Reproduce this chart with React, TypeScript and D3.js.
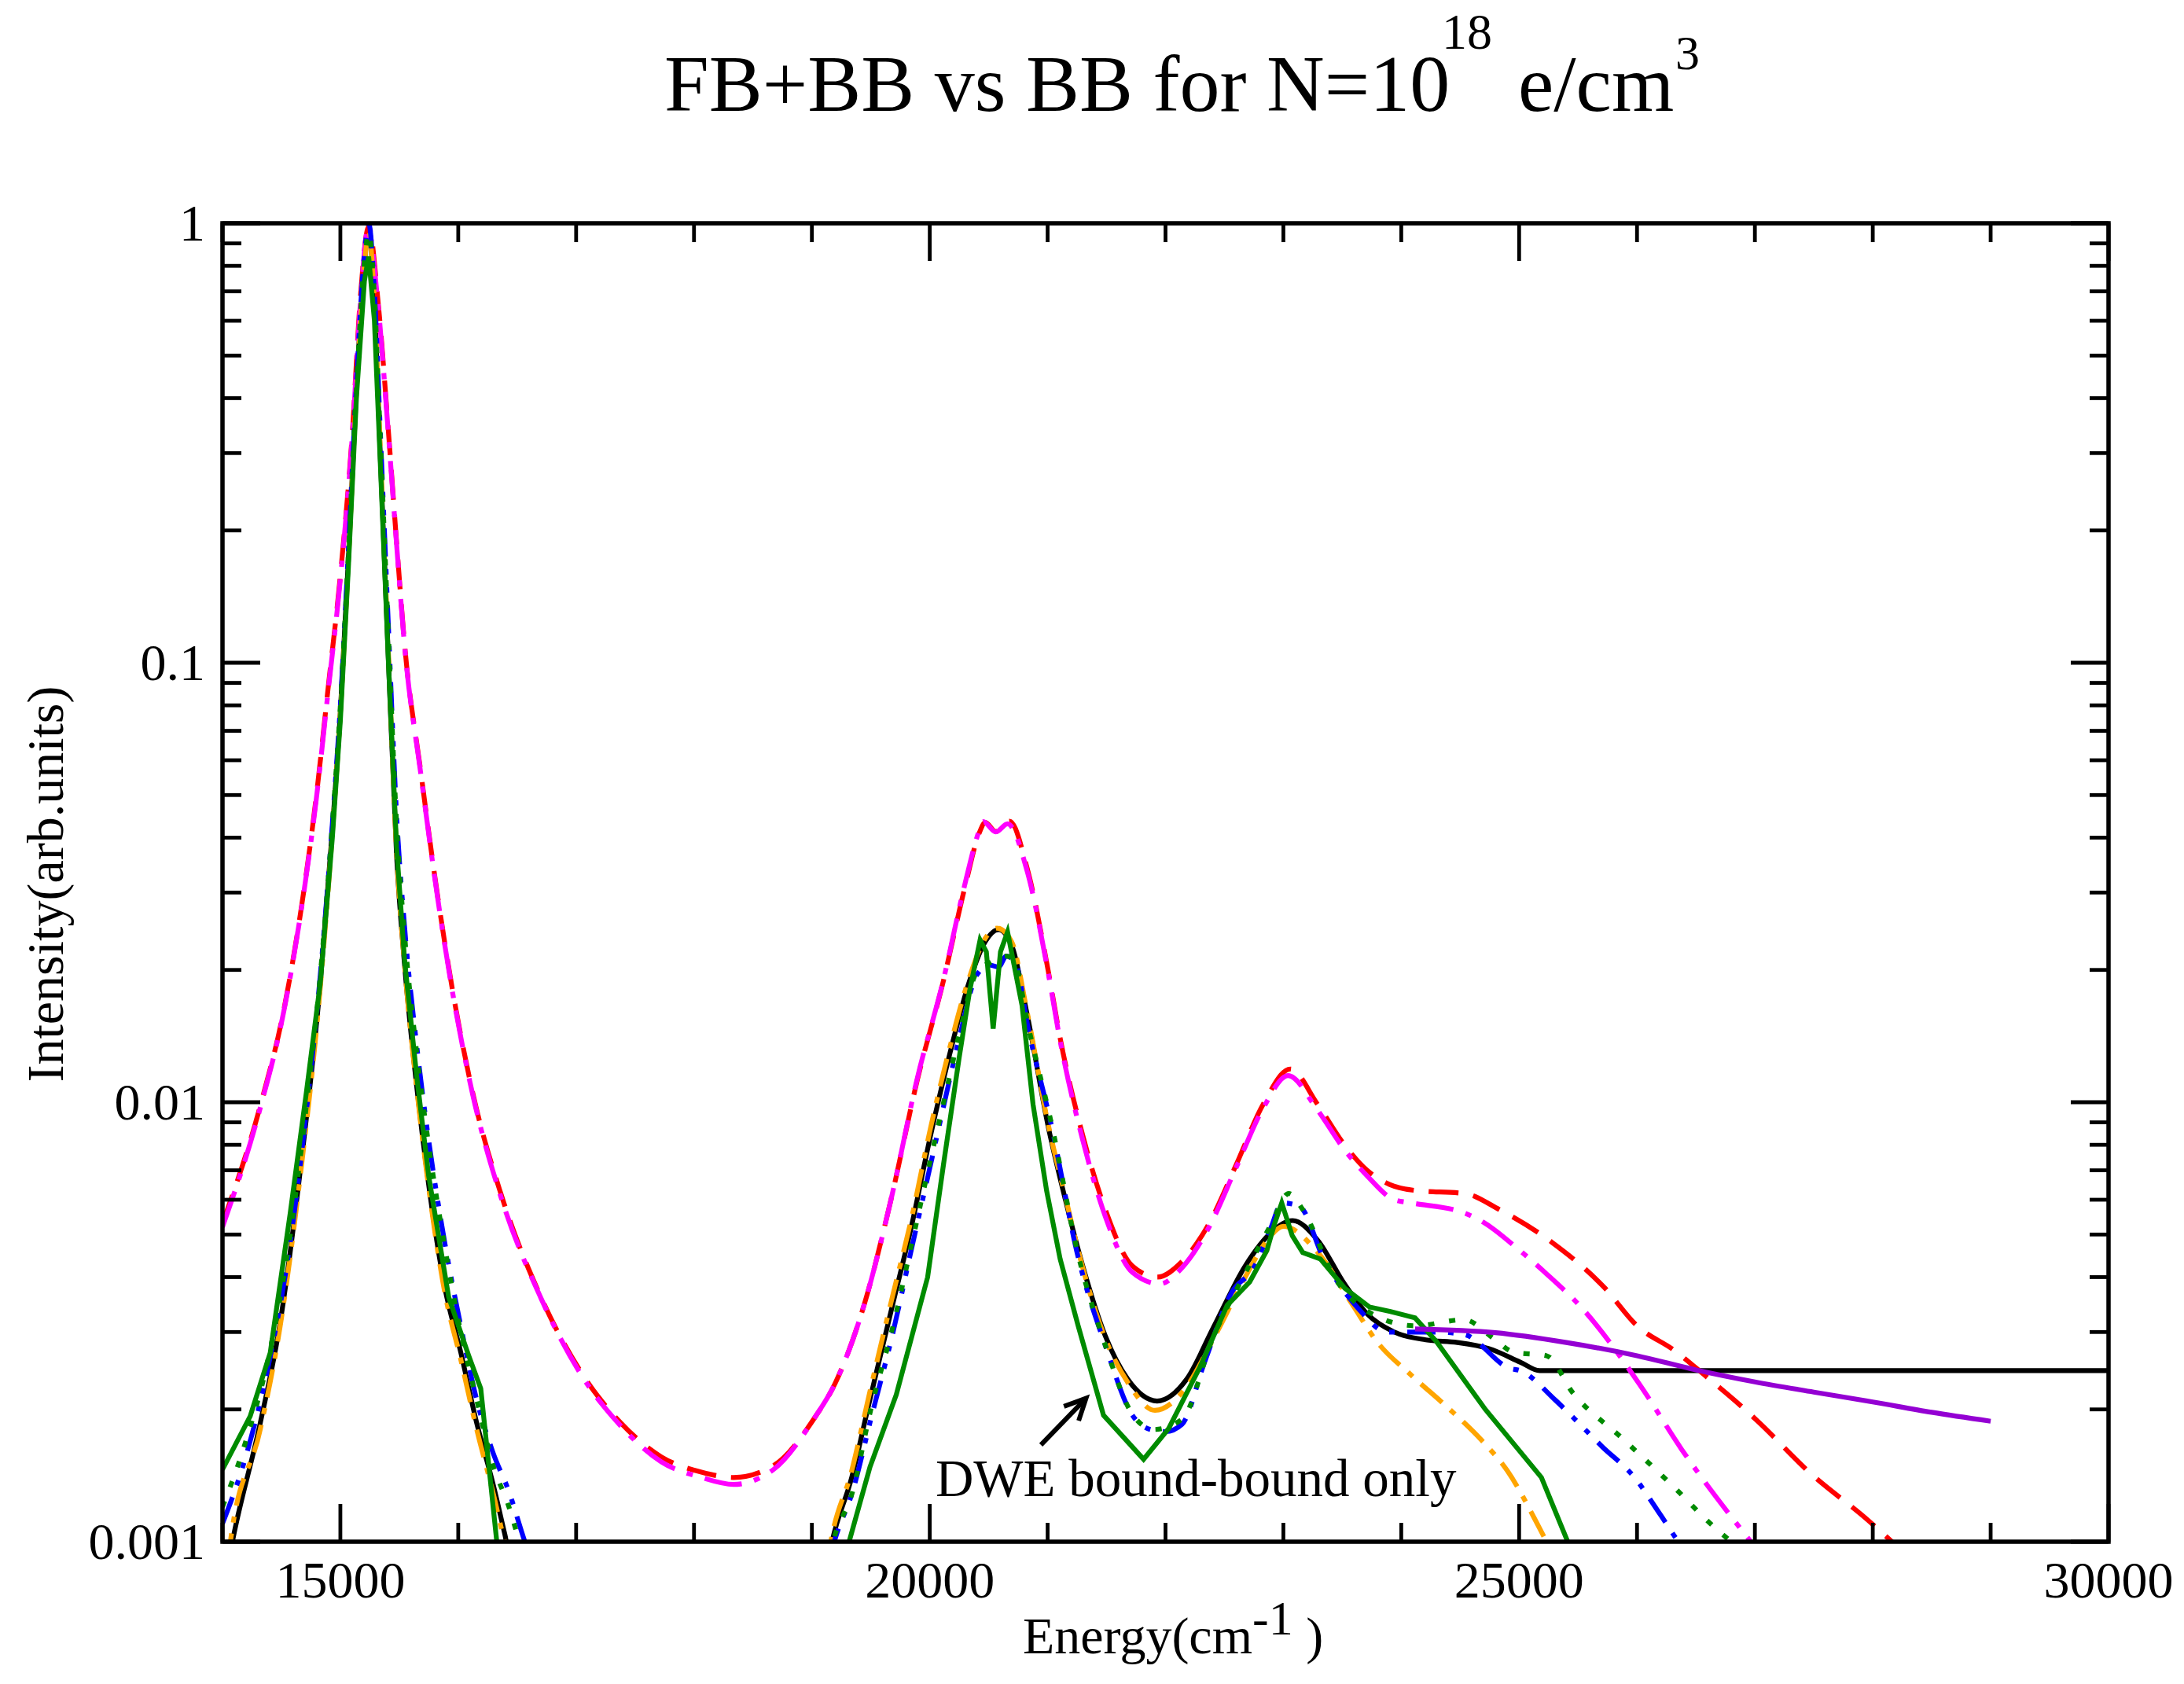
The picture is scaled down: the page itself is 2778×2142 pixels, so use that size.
import React, { useEffect, useRef } from 'react';
import * as d3 from 'd3';

type Pt = [number, number];

const W = 2778;
const H = 2142;

// axis ticks
const xMajorTicks = [15000, 20000, 25000, 30000];
const xMinorTicks = d3.range(14000, 30001, 1000).filter((v) => v % 5000 !== 0);
const yMajorTicks = [1, 0.1, 0.01, 0.001];
const yTickLabels = ['1', '0.1', '0.01', '0.001'];
const yMinorTicks = [0.001, 0.01, 0.1].flatMap((d) => d3.range(2, 10).map((k) => k * d));

// red dashed
const redDashed: Pt[] = [
  [14000, 0.0053], [14320, 0.0098], [14524, 0.0164], [14660, 0.0267], [14796, 0.0497], [14898, 0.0885],
  [15000, 0.158], [15102, 0.335], [15170, 0.68], [15240, 0.98], [15323, 0.65], [15408, 0.335],
  [15477, 0.188], [15545, 0.11], [15681, 0.0568], [15817, 0.0305], [15953, 0.0179], [16123, 0.0105],
  [16361, 0.0062], [16702, 0.0036], [17042, 0.00243], [17382, 0.00186], [17722, 0.00156], [18063, 0.00144],
  [18335, 0.0014], [18675, 0.00149], [19015, 0.0019], [19200, 0.0023], [19449, 0.0035], [19671, 0.006],
  [19893, 0.0112], [20116, 0.0189], [20300, 0.031], [20420, 0.041], [20471, 0.0433], [20560, 0.0413],
  [20677, 0.0436], [20827, 0.034], [21005, 0.0199], [21106, 0.014], [21298, 0.0084], [21489, 0.0057],
  [21719, 0.00424], [21929, 0.004], [22140, 0.00434], [22370, 0.0053], [22599, 0.0072], [22829, 0.0099],
  [23059, 0.0119], [23289, 0.0099], [23518, 0.008], [23710, 0.007], [23901, 0.0065], [24117, 0.0063],
  [24534, 0.0062], [24832, 0.0057], [25278, 0.0048], [25718, 0.0038], [26000, 0.0031], [26320, 0.00272],
  [26576, 0.00239], [26915, 0.002], [27024, 0.00188], [27473, 0.00143], [27958, 0.00112], [28163, 0.001],
  [28400, 0.00088],
];

// magenta dash-dot
const magentaDashDot: Pt[] = [
  [14000, 0.0052], [14320, 0.0097], [14524, 0.0163], [14660, 0.0265], [14796, 0.049], [14898, 0.087],
  [15000, 0.155], [15102, 0.33], [15170, 0.66], [15235, 0.97], [15318, 0.66], [15408, 0.33],
  [15477, 0.186], [15545, 0.109], [15681, 0.0562], [15817, 0.0302], [15953, 0.0177], [16123, 0.0104],
  [16361, 0.0061], [16702, 0.00358], [17042, 0.0024], [17382, 0.00183], [17722, 0.00152], [18063, 0.0014],
  [18335, 0.00135], [18675, 0.00146], [19015, 0.0019], [19200, 0.0023], [19449, 0.0035], [19671, 0.006],
  [19893, 0.0113], [20116, 0.019], [20300, 0.0315], [20420, 0.0415], [20454, 0.0435], [20560, 0.0412],
  [20660, 0.043], [20827, 0.0335], [21005, 0.0197], [21106, 0.0138], [21298, 0.0082], [21489, 0.0055],
  [21719, 0.0041], [21950, 0.00386], [22140, 0.0042], [22370, 0.0052], [22599, 0.0071], [22829, 0.0097],
  [23040, 0.0115], [23289, 0.0096], [23518, 0.0078], [23710, 0.0068], [23940, 0.006], [24087, 0.0059],
  [24534, 0.0056], [24712, 0.0053], [24980, 0.00466], [25219, 0.0041], [25546, 0.00337], [26022, 0.00228],
  [26380, 0.00162], [26915, 0.00104], [27100, 0.0009],
];

// black solid
const blackSolid: Pt[] = [
  [14050, 0.0009], [14100, 0.00105], [14320, 0.00186], [14490, 0.00316], [14660, 0.007], [14830, 0.0187],
  [14932, 0.0417], [15000, 0.0774], [15068, 0.172], [15136, 0.418], [15204, 0.81], [15240, 0.97],
  [15289, 0.65], [15340, 0.29], [15408, 0.101], [15477, 0.0364], [15545, 0.0205], [15647, 0.0109],
  [15749, 0.0065], [15885, 0.0038], [16021, 0.0027], [16157, 0.00186], [16293, 0.00136], [16395, 0.00104],
  [16450, 0.0009], [19100, 0.0008], [19171, 0.001], [19338, 0.0014], [19493, 0.00211], [19671, 0.00334],
  [19849, 0.00528], [20005, 0.00836], [20160, 0.01257], [20338, 0.0189], [20471, 0.0232], [20583, 0.0247],
  [20694, 0.0228], [20827, 0.0158], [21005, 0.0088], [21144, 0.0061], [21298, 0.00424], [21489, 0.00294],
  [21681, 0.00234], [21929, 0.00209], [22178, 0.00234], [22408, 0.00308], [22676, 0.00424], [22906, 0.00508],
  [23078, 0.00538], [23289, 0.00486], [23518, 0.00386], [23710, 0.0033], [23940, 0.003], [24208, 0.00288],
  [24476, 0.00284], [24744, 0.00275], [25012, 0.00256], [25174, 0.00245], [30000, 0.00245],
];

// orange long dash-dot
const orangeDashDot: Pt[] = [
  [14050, 0.0009], [14067, 0.001], [14320, 0.0018], [14490, 0.0031], [14660, 0.0068], [14830, 0.0183],
  [14932, 0.041], [15000, 0.077], [15068, 0.17], [15136, 0.41], [15204, 0.8], [15240, 0.96],
  [15289, 0.66], [15340, 0.3], [15408, 0.105], [15477, 0.037], [15545, 0.0205], [15647, 0.0108],
  [15749, 0.0064], [15885, 0.0037], [16021, 0.0026], [16157, 0.0018], [16293, 0.0013], [16395, 0.001],
  [16450, 0.0009], [19100, 0.0008], [19160, 0.001], [19338, 0.00145], [19493, 0.0022], [19671, 0.0035],
  [19849, 0.0055], [20005, 0.0087], [20160, 0.013], [20338, 0.0193], [20471, 0.0236], [20570, 0.0249],
  [20694, 0.0232], [20827, 0.016], [21005, 0.0089], [21144, 0.0062], [21298, 0.0042], [21489, 0.0029],
  [21681, 0.0023], [21910, 0.00199], [22150, 0.0022], [22408, 0.0029], [22676, 0.004], [22850, 0.0048],
  [23000, 0.00522], [23284, 0.00458], [23581, 0.00348], [23790, 0.00286], [24087, 0.00239], [24385, 0.00203],
  [24683, 0.0017], [24900, 0.00145], [25176, 0.00107], [25250, 0.00098], [25350, 0.0009],
];

// blue dash-dot-dot
const blueDashDotDot: Pt[] = [
  [14000, 0.0011], [14200, 0.00157], [14400, 0.0026], [14575, 0.0048], [14711, 0.0095], [14830, 0.0195],
  [14932, 0.043], [15000, 0.08], [15068, 0.18], [15136, 0.43], [15204, 0.85], [15240, 1.0],
  [15289, 0.7], [15340, 0.33], [15408, 0.12], [15477, 0.045], [15545, 0.025], [15647, 0.0135],
  [15749, 0.0082], [15885, 0.0048], [16021, 0.0031], [16157, 0.0021], [16293, 0.0016], [16430, 0.0013],
  [16565, 0.001], [16700, 0.0008], [19100, 0.0008], [19190, 0.001], [19345, 0.0013], [19500, 0.0019],
  [19689, 0.003], [19850, 0.0047], [19996, 0.007], [20160, 0.011], [20264, 0.0145], [20400, 0.0195],
  [20513, 0.0205], [20583, 0.0203], [20650, 0.0215], [20720, 0.021], [20838, 0.0146], [21030, 0.0089],
  [21259, 0.00444], [21489, 0.0028], [21719, 0.00194], [21870, 0.0018], [22000, 0.00178], [22140, 0.00185],
  [22331, 0.00256], [22561, 0.00369], [22748, 0.0042], [22897, 0.0052], [22986, 0.0059], [23135, 0.0058],
  [23343, 0.0044], [23641, 0.00338], [23879, 0.003], [24296, 0.003], [24534, 0.00296], [24921, 0.00248],
  [25008, 0.00245], [25307, 0.0021], [25456, 0.00192], [25700, 0.00165], [25979, 0.0014], [26200, 0.00115],
  [26352, 0.001], [26500, 0.0009],
];

// green dotted
const greenDotted: Pt[] = [
  [14000, 0.0012], [14200, 0.0017], [14400, 0.0027], [14575, 0.005], [14711, 0.0098], [14830, 0.0195],
  [14932, 0.043], [15000, 0.08], [15068, 0.178], [15136, 0.42], [15204, 0.82], [15240, 0.95],
  [15289, 0.68], [15340, 0.32], [15408, 0.115], [15477, 0.043], [15545, 0.024], [15647, 0.013],
  [15749, 0.008], [15885, 0.0047], [16021, 0.003], [16157, 0.0021], [16293, 0.0015], [16430, 0.0012],
  [16520, 0.001], [16650, 0.0008], [19100, 0.0008], [19180, 0.001], [19345, 0.0013], [19500, 0.002],
  [19689, 0.0031], [19850, 0.0048], [19996, 0.0072], [20160, 0.0112], [20264, 0.0148], [20400, 0.0198],
  [20513, 0.0208], [20650, 0.0215], [20720, 0.0208], [20838, 0.0148], [21030, 0.009], [21259, 0.0045],
  [21489, 0.0028], [21719, 0.00195], [21900, 0.0018], [22140, 0.0019], [22400, 0.0029], [22700, 0.0042],
  [22900, 0.0053], [23045, 0.0062], [23164, 0.0057], [23432, 0.004], [23790, 0.00326], [24117, 0.0031],
  [24534, 0.0032], [24784, 0.0029], [24951, 0.0027], [25232, 0.00265], [25456, 0.00218], [25874, 0.00172],
  [26278, 0.00136], [26688, 0.00106], [26800, 0.001], [27000, 0.0009],
];

// green solid
const greenSolid: Pt[] = [
  [14000, 0.00146], [14235, 0.00193], [14405, 0.00269], [14575, 0.0056], [14711, 0.0105], [14830, 0.0187],
  [14932, 0.04], [15000, 0.074], [15068, 0.165], [15136, 0.4], [15204, 0.74], [15240, 0.84],
  [15289, 0.6], [15340, 0.28], [15408, 0.1], [15477, 0.038], [15545, 0.021], [15647, 0.0115],
  [15749, 0.0068], [15919, 0.0036], [16089, 0.00265], [16191, 0.00223], [16327, 0.001], [16380, 0.0008],
  [19250, 0.0008], [19316, 0.001], [19493, 0.00148], [19716, 0.00216], [19982, 0.004], [20116, 0.0072],
  [20249, 0.0126], [20338, 0.0179], [20427, 0.0234], [20480, 0.022], [20538, 0.0147], [20600, 0.022],
  [20660, 0.0244], [20783, 0.0166], [20876, 0.0099], [20991, 0.0063], [21106, 0.0044], [21259, 0.0031],
  [21474, 0.00194], [21814, 0.00154], [22027, 0.00181], [22293, 0.0025], [22523, 0.00345], [22714, 0.0039],
  [22860, 0.0046], [22926, 0.0053], [22986, 0.0059], [23075, 0.00497], [23164, 0.00455], [23313, 0.0044],
  [23522, 0.00377], [23730, 0.00342], [23909, 0.00334], [24117, 0.00323], [24296, 0.00286], [24713, 0.002],
  [25189, 0.0014], [25412, 0.001], [25500, 0.0009],
];

// violet solid
const violetSolid: Pt[] = [
  [24117, 0.00305], [24800, 0.00299], [25400, 0.00284], [26000, 0.00265], [26500, 0.00246],
  [27000, 0.00231], [27500, 0.00219], [28000, 0.00208], [28500, 0.00197], [29000, 0.00188],
];

const App: React.FC = () => {
  const ref = useRef<SVGSVGElement>(null);

  useEffect(() => {
    if (!ref.current) return;
    const svg = d3.select(ref.current);
    svg.selectAll('*').remove();

    const left = 283;
    const right = 2682;
    const top = 284;
    const bottom = 1961;
    const font = "'Liberation Serif', 'Times New Roman', serif";

    const x = d3.scaleLinear().domain([14000, 30000]).range([left, right]);
    const y = d3.scaleLog().domain([0.001, 1]).range([bottom, top]);

    svg.append('rect').attr('width', W).attr('height', H).attr('fill', '#fff');

    svg
      .append('clipPath')
      .attr('id', 'plot-clip')
      .append('rect')
      .attr('x', left)
      .attr('y', top)
      .attr('width', right - left)
      .attr('height', bottom - top);

    const line = (curve: d3.CurveFactory) =>
      d3
        .line<Pt>()
        .x((d) => x(d[0]))
        .y((d) => y(d[1]))
        .curve(curve);

    const series = [
      { data: blackSolid, color: '#000000', dash: null, curve: d3.curveMonotoneX },
      { data: redDashed, color: '#ff0000', dash: '38 19', curve: d3.curveMonotoneX },
      { data: magentaDashDot, color: '#ff00ff', dash: '48 16 8 16', curve: d3.curveMonotoneX },
      { data: orangeDashDot, color: '#ffa500', dash: '36 14 8 14', curve: d3.curveMonotoneX },
      { data: blueDashDotDot, color: '#0000ff', dash: '36 16 7 16 7 16', curve: d3.curveMonotoneX },
      { data: greenDotted, color: '#008b00', dash: '8 19', curve: d3.curveMonotoneX },
      { data: greenSolid, color: '#008b00', dash: null, curve: d3.curveLinear },
      { data: violetSolid, color: '#9400d3', dash: null, curve: d3.curveMonotoneX },
    ];

    const plot = svg.append('g').attr('clip-path', 'url(#plot-clip)');
    series.forEach((s) => {
      plot
        .append('path')
        .datum(s.data)
        .attr('d', line(s.curve))
        .attr('fill', 'none')
        .attr('stroke', s.color)
        .attr('stroke-width', 6.2)
        .attr('stroke-dasharray', s.dash)
        .attr('stroke-linejoin', 'miter');
    });

    // frame and ticks on all four sides
    const axes = svg.append('g').attr('stroke', '#000').attr('stroke-width', 4.8);
    const major = 48;
    const minor = 24;
    const xTick = (v: number, len: number) => {
      axes.append('line').attr('x1', x(v)).attr('x2', x(v)).attr('y1', bottom).attr('y2', bottom - len);
      axes.append('line').attr('x1', x(v)).attr('x2', x(v)).attr('y1', top).attr('y2', top + len);
    };
    const yTick = (v: number, len: number) => {
      axes.append('line').attr('x1', left).attr('x2', left + len).attr('y1', y(v)).attr('y2', y(v));
      axes.append('line').attr('x1', right).attr('x2', right - len).attr('y1', y(v)).attr('y2', y(v));
    };
    xMinorTicks.forEach((v) => xTick(v, minor));
    xMajorTicks.forEach((v) => xTick(v, major));
    yMinorTicks.forEach((v) => yTick(v, minor));
    yMajorTicks.forEach((v) => yTick(v, major));

    svg
      .append('rect')
      .attr('x', left)
      .attr('y', top)
      .attr('width', right - left)
      .attr('height', bottom - top)
      .attr('fill', 'none')
      .attr('stroke', '#000')
      .attr('stroke-width', 5.5);

    // tick labels
    const labels = svg.append('g').attr('font-family', font).attr('font-size', 66).attr('fill', '#000');
    xMajorTicks.forEach((v) => {
      labels.append('text').attr('x', x(v)).attr('y', 2032).attr('text-anchor', 'middle').text(String(v));
    });
    yMajorTicks.forEach((v, i) => {
      labels
        .append('text')
        .attr('x', 261)
        .attr('y', y(v) + 22)
        .attr('text-anchor', 'end')
        .text(yTickLabels[i]);
    });

    // axis titles
    const xTitle = labels.append('text').attr('x', 1301).attr('y', 2103).style('white-space', 'pre');
    xTitle.append('tspan').text('Energy(cm');
    xTitle.append('tspan').attr('dy', -24).attr('font-size', 62).text('-1');
    xTitle.append('tspan').attr('dy', 24).text(' )');

    labels
      .append('text')
      .attr('transform', `translate(80, ${(top + bottom) / 2 + 2}) rotate(-90)`)
      .attr('text-anchor', 'middle')
      .text('Intensity(arb.units)');

    // title with superscripts
    const title = svg.append('g').attr('font-family', font).attr('fill', '#000');
    title.append('text').attr('x', 845).attr('y', 141).attr('font-size', 102).text('FB+BB vs BB for N=10');
    title.append('text').attr('x', 1834).attr('y', 62).attr('font-size', 64).text('18');
    title.append('text').attr('x', 1931).attr('y', 141).attr('font-size', 102).text('e/cm');
    title.append('text').attr('x', 2131).attr('y', 88).attr('font-size', 62).text('3');

    // annotation with arrow
    svg
      .append('text')
      .attr('x', x(20049))
      .attr('y', y(0.00127))
      .attr('font-family', font)
      .attr('font-size', 67)
      .text('DWE bound-bound only');

    const tail: [number, number] = [x(20943), y(0.00166)];
    const tip: [number, number] = [x(21326), y(0.00212)];
    const ang = Math.atan2(tip[1] - tail[1], tip[0] - tail[0]);
    const head = 30;
    const spread = 0.45;
    const barb = (s: number): [number, number] => [
      tip[0] - head * Math.cos(ang + s * spread),
      tip[1] - head * Math.sin(ang + s * spread),
    ];
    svg
      .append('line')
      .attr('x1', tail[0])
      .attr('y1', tail[1])
      .attr('x2', tip[0] - 6 * Math.cos(ang))
      .attr('y2', tip[1] - 6 * Math.sin(ang))
      .attr('stroke', '#000')
      .attr('stroke-width', 6);
    svg
      .append('path')
      .attr('d', `M${barb(1).join(',')}L${tip.join(',')}L${barb(-1).join(',')}`)
      .attr('fill', 'none')
      .attr('stroke', '#000')
      .attr('stroke-width', 6);
  }, []);

  return <svg ref={ref} width={W} height={H} style={{ position: 'absolute', left: 0, top: 0 }} />;
};

export default App;
